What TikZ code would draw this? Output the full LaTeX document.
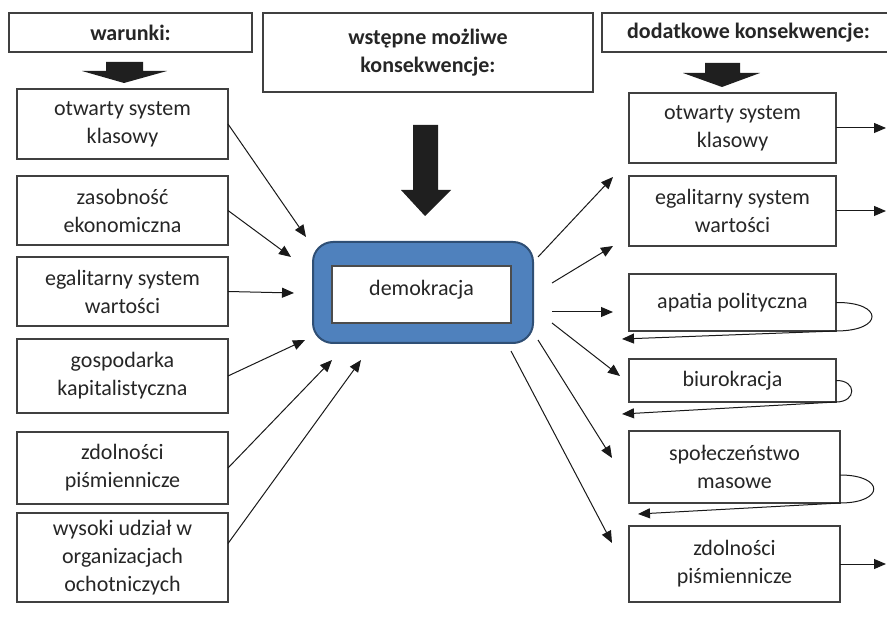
\documentclass[tikz,border=0pt]{standalone}
\usepackage{fontspec}
\setmainfont{Carlito}
\usetikzlibrary{arrows.meta}
\definecolor{demoblue}{HTML}{4F81BD}
\definecolor{demoedge}{HTML}{2F4F75}

\begin{document}
\begin{tikzpicture}
    [x=0.5pt, y=-0.5pt,
     every node/.style={align=center, inner sep=0pt, outer sep=0pt, text=black!85,
       font=\fontsize{11}{14}\selectfont},
     box/.style={draw=black!75, line width=0.7pt, fill=white},
     lbox/.style={box, minimum width=105.5pt},
     rbox/.style={box, minimum width=103.5pt},
     head/.style={box, font=\fontsize{11}{14}\selectfont\bfseries},
     arr/.style={-{Triangle[length=6pt,width=5pt]}, line width=0.5pt, black!90},
     bigarrow/.style={fill=black!88}]
    \useasboundingbox (0,0) rectangle (887,619);
    % headers
    \node[head, minimum width=121.5pt, minimum height=19.5pt] (h1) at (130.5, 32.5) {warunki:};
    \node[head, minimum width=165pt, minimum height=39.5pt] (h2) at (428, 52.5) {wstępne możliwe\\konsekwencje:};
    \node[head, minimum width=146.5pt, minimum height=19.5pt] (h3) at (748.5, 32.5) {dodatkowe konsekwencje:};
    \fill[bigarrow] (106,62) -- (143,62) -- (143,71) -- (167,71) -- (124,83) -- (82,71) -- (106,71) -- cycle;
    \fill[bigarrow] (705,63) -- (740,63) -- (740,73) -- (760,73) -- (722,87) -- (683,73) -- (705,73) -- cycle;
    \fill[bigarrow] (413,125) -- (438,125) -- (438,190) -- (451,190) -- (425,216) -- (401,190) -- (413,190) -- cycle;
    % conditions
    \node[lbox, minimum height=35pt] (l1) at (122.5, 124) {otwarty system\\klasowy};
    \node[lbox, minimum height=34.5pt] (l2) at (122.5, 210.5) {zasobność\\ekonomiczna};
    \node[lbox, minimum height=34.5pt] (l3) at (122.5, 291.5) {egalitarny system\\wartości};
    \node[lbox, minimum height=37pt] (l4) at (122.5, 376) {gospodarka\\kapitalistyczna};
    \node[lbox, minimum height=36pt] (l5) at (122.5, 468) {zdolności\\piśmiennicze};
    \node[lbox, minimum height=44.5pt] (l6) at (122.5, 557.5) {wysoki udział w\\organizacjach\\ochotniczych};
    % democracy
    \node[fill=demoblue, draw=demoedge, line width=1pt, rounded corners=10pt,
      minimum width=110pt, minimum height=50.5pt] (demo) at (423, 292.5) {};
    \node[box, draw=black!70, minimum width=89.5pt, minimum height=28.5pt] (demoin) at (421.5, 294.5) {};
    \node (demotext) at (421.5, 290) {demokracja};
    % consequences
    \node[rbox, minimum height=35pt] (r1) at (732.5, 128) {otwarty system\\klasowy};
    \node[rbox, minimum height=35pt] (r2) at (732.5, 211) {egalitarny system\\wartości};
    \node[rbox, minimum height=28.5pt] (r3) at (732.5, 302.5) {apatia polityczna};
    \node[rbox, minimum height=21.5pt] (r4) at (732.5, 380.5) {biurokracja};
    \node[lbox, minimum height=36pt] (r5) at (734.5, 467) {społeczeństwo\\masowe};
    \node[lbox, minimum height=38pt] (r6) at (734.5, 564) {zdolności\\piśmiennicze};
    % arrow ends
    \coordinate (t1) at (306, 237);
    \coordinate (t2) at (291, 257);
    \coordinate (t3) at (294, 293);
    \coordinate (t4) at (305, 340);
    \coordinate (t5) at (332, 360);
    \coordinate (t6) at (361, 360);
    \coordinate (s1) at (538, 257);
    \coordinate (s2) at (552, 283);
    \coordinate (s3) at (552, 312);
    \coordinate (s4) at (552, 323);
    \coordinate (s5) at (538, 340);
    \coordinate (s6) at (511, 351);
    \coordinate (e1) at (613, 177);
    \coordinate (e2) at (613, 246);
    \coordinate (e3) at (613, 312);
    \coordinate (e4) at (620, 376);
    \coordinate (e5) at (612, 458);
    \coordinate (e6) at (612, 543);
    \coordinate (o1) at (886, 128);
    \coordinate (o2) at (886, 211);
    \coordinate (o6) at (886, 564);
    \coordinate (b3) at (622, 339);
    \coordinate (b4) at (622, 414);
    \coordinate (b5) at (638, 514);
    \draw[arr] (l1.east) -- (t1);
    \draw[arr] (l2.east) -- (t2);
    \draw[arr] (l3.east) -- (t3);
    \draw[arr] (l4.east) -- (t4);
    \draw[arr] (l5.east) -- (t5);
    \draw[arr] ([yshift=7pt]l6.east) -- (t6);
    \draw[arr] (s1) -- (e1);
    \draw[arr] (s2) -- (e2);
    \draw[arr] (s3) -- (e3);
    \draw[arr] (s4) -- (e4);
    \draw[arr] (s5) -- (e5);
    \draw[arr] (s6) -- (e6);
    \draw[arr] (r1.east) -- (o1);
    \draw[arr] (r2.east) -- (o2);
    \draw[arr] (r6.east) -- (o6);
    % loops back
    \draw[arr] (r3.east) .. controls (884,302) and (884,331) .. (r3.south east) -- (b3);
    \draw[arr] (r4.east) .. controls (857,380) and (857,402) .. (r4.south east) -- (b4);
    \draw[arr] ([yshift=-4pt]r5.east) .. controls (885,475) and (885,503) .. (r5.south east) -- (b5);
\end{tikzpicture}
\end{document}
